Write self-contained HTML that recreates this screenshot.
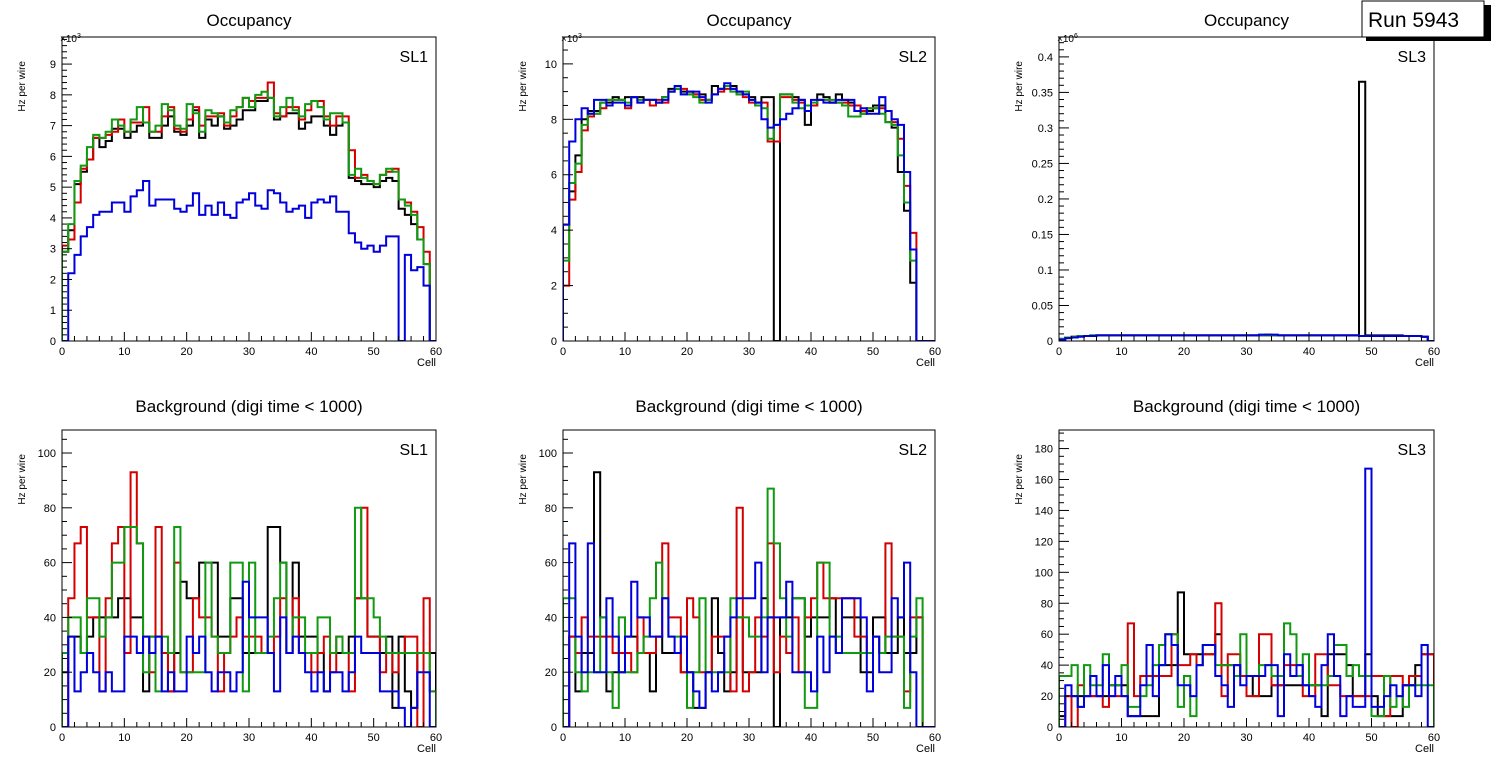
<!DOCTYPE html>
<html><head><meta charset="utf-8"><style>
html,body{margin:0;padding:0;background:#fff;}
svg{display:block;font-family:"Liberation Sans",Arial,sans-serif;}
</style></head><body>
<svg id="chart" width="1496" height="772" viewBox="0 0 1496 772" xmlns="http://www.w3.org/2000/svg">
<rect x="0" y="0" width="1496" height="772" fill="#fff"/>
<g>
<rect x="1366" y="5" width="125" height="36" fill="#000"/>
<rect x="1362" y="1" width="122" height="36" fill="#fff" stroke="#000" stroke-width="1"/>
<text x="1368" y="27" font-size="21" fill="#000">Run 5943</text>
</g>
</svg>
<script>
// ---- data ----
const cells = 60;
const occ1Black=[2.9,3.6,5.1,5.5,5.9,6.6,6.3,6.5,6.9,6.9,6.6,6.8,7.0,7.1,6.6,6.6,7.0,7.3,6.8,6.7,7.0,7.5,6.6,7.2,7.0,7.3,6.9,7.0,7.2,7.5,7.5,7.8,7.8,7.9,7.2,7.3,7.4,7.4,6.9,7.1,7.3,7.3,7.0,6.7,7.0,7.1,5.3,5.2,5.1,5.1,5.0,5.2,5.3,5.2,4.3,4.1,3.8,3.3,2.5,0];
const occ1Red=[3.1,3.3,4.5,5.6,5.9,6.6,6.6,6.7,6.8,7.2,6.8,7.1,7.1,7.6,6.8,6.8,7.3,7.6,6.9,6.8,7.2,7.6,7.0,7.3,7.3,7.4,7.0,7.3,7.6,7.9,7.8,7.9,7.9,8.4,7.4,7.3,7.6,7.6,7.2,7.5,7.8,7.8,7.3,7.0,7.3,7.3,6.2,5.3,5.4,5.2,5.1,5.4,5.5,5.6,4.6,4.5,4.2,3.7,2.9,0];
const occ1Green=[2.9,3.8,5.2,5.7,6.3,6.7,6.6,6.8,7.2,7.0,6.8,7.2,7.6,7.1,6.8,7.0,7.7,7.5,7.0,6.9,7.7,7.4,6.8,7.5,7.4,7.3,7.1,7.5,7.6,7.9,7.6,8.0,8.1,7.9,7.3,7.6,7.9,7.5,7.3,7.7,7.8,7.6,7.2,7.4,7.4,7.1,5.4,5.6,5.3,5.2,5.1,5.4,5.6,5.5,4.6,4.4,4.1,3.3,2.5,0];
const occ1Blue=[0,2.2,2.8,3.4,3.7,4.1,4.2,4.2,4.5,4.5,4.2,4.7,4.9,5.2,4.4,4.6,4.6,4.6,4.3,4.2,4.4,4.8,4.1,4.4,4.1,4.5,4.1,4.0,4.5,4.6,4.8,4.4,4.3,4.9,4.8,4.5,4.2,4.3,4.4,4.0,4.5,4.6,4.5,4.7,4.2,4.2,3.5,3.2,3.0,3.1,2.9,3.1,3.4,3.4,0,2.8,2.3,2.4,1.8,0];

const occ2Black=[4.2,5.4,6.7,8.0,8.3,8.3,8.6,8.6,8.8,8.7,8.8,8.8,8.8,8.7,8.7,8.6,8.8,9.1,9.1,9.0,9.0,8.9,8.9,8.7,9.2,9.1,9.2,9.2,9.0,8.9,8.8,8.6,8.8,8.8,0,8.9,8.9,8.8,8.7,7.8,8.5,8.9,8.8,8.6,8.9,8.7,8.6,8.3,8.2,8.3,8.5,8.5,7.9,7.7,6.1,4.7,2.1,0,0,0];
const occ2Red=[2.0,5.1,6.1,7.6,8.1,8.2,8.4,8.7,8.7,8.7,8.4,8.8,8.6,8.7,8.5,8.7,8.6,9.0,9.1,9.1,8.9,8.9,8.7,8.7,8.9,9.0,9.1,9.1,8.9,8.8,8.6,8.5,8.6,7.2,7.2,8.8,8.8,8.7,8.6,8.3,8.5,8.7,8.7,8.6,8.6,8.6,8.5,8.5,8.3,8.4,8.4,8.4,8.3,7.9,7.3,5.6,3.9,0,0,0];
const occ2Green=[2.9,5.7,6.4,7.8,8.2,8.2,8.6,8.7,8.7,8.7,8.6,8.8,8.7,8.7,8.7,8.6,8.8,9.0,9.1,8.9,8.9,8.8,8.6,8.7,8.9,9.1,9.2,9.0,8.9,9.0,8.7,8.5,8.4,7.3,7.8,8.9,8.9,8.6,8.4,8.5,8.6,8.7,8.7,8.7,8.6,8.5,8.1,8.1,8.2,8.4,8.4,8.2,7.9,7.8,6.7,5.0,2.9,0,0,0];
const occ2Blue=[4.2,7.2,8.0,8.4,8.2,8.7,8.7,8.5,8.6,8.6,8.5,8.8,8.6,8.7,8.7,8.6,8.7,9.0,9.2,8.9,9.0,9.0,8.8,8.6,8.9,9.1,9.3,9.1,9.0,8.9,8.7,8.6,8.0,7.7,7.8,8.0,8.2,8.4,8.7,8.3,8.7,8.7,8.6,8.6,8.7,8.7,8.7,8.3,8.4,8.2,8.2,8.8,8.3,8.0,7.8,6.1,3.3,0,0,0];

const occ3Black=[0.003,0.005,0.006,0.007,0.007,0.008,0.008,0.008,0.008,0.008,0.008,0.008,0.008,0.008,0.008,0.008,0.008,0.008,0.008,0.008,0.008,0.008,0.008,0.008,0.008,0.008,0.008,0.008,0.008,0.008,0.008,0.008,0.008,0.008,0.008,0.008,0.008,0.008,0.008,0.008,0.008,0.008,0.008,0.008,0.008,0.008,0.008,0.008,0.365,0.008,0.008,0.008,0.008,0.008,0.008,0.007,0.007,0.007,0.006,0];
const occ3Red=[0.002,0.004,0.006,0.007,0.007,0.007,0.008,0.008,0.008,0.008,0.008,0.008,0.008,0.008,0.008,0.008,0.008,0.008,0.008,0.008,0.008,0.008,0.008,0.008,0.008,0.008,0.008,0.008,0.008,0.008,0.008,0.008,0.008,0.009,0.008,0.008,0.008,0.008,0.008,0.008,0.008,0.008,0.008,0.008,0.008,0.008,0.008,0.008,0.007,0.007,0.007,0.007,0.007,0.007,0.007,0.007,0.007,0.007,0.006,0];
const occ3Green=[0.003,0.005,0.006,0.007,0.007,0.008,0.008,0.008,0.008,0.008,0.008,0.008,0.008,0.008,0.008,0.008,0.008,0.008,0.008,0.008,0.008,0.008,0.008,0.008,0.008,0.008,0.008,0.008,0.008,0.008,0.008,0.008,0.008,0.008,0.008,0.008,0.008,0.008,0.008,0.008,0.008,0.008,0.008,0.008,0.008,0.008,0.008,0.008,0.007,0.007,0.007,0.007,0.007,0.007,0.007,0.007,0.007,0.007,0.006,0];
const occ3Blue=[0.002,0.004,0.005,0.006,0.007,0.007,0.008,0.008,0.008,0.008,0.008,0.008,0.008,0.008,0.008,0.008,0.008,0.008,0.008,0.008,0.008,0.008,0.008,0.008,0.008,0.008,0.008,0.008,0.008,0.008,0.008,0.008,0.009,0.009,0.009,0.008,0.008,0.008,0.008,0.008,0.008,0.008,0.008,0.008,0.008,0.008,0.008,0.008,0.007,0.007,0.007,0.007,0.007,0.007,0.007,0.007,0.007,0.007,0.006,0];

const bkg1Black=[20,33,33,27,33,40,40,40,40,47,47,40,40,13,33,33,27,13,27,53,47,47,60,60,60,33,33,47,47,27,27,27,27,73,73,60,27,60,33,33,33,27,13,27,27,27,33,47,47,33,33,27,33,7,33,13,7,27,27,27];
const bkg1Red=[0,47,67,73,40,40,13,47,67,73,27,93,67,33,20,73,27,13,60,20,20,47,40,40,33,13,27,33,40,33,33,33,27,27,33,47,27,47,27,27,20,27,33,20,33,27,13,47,80,33,33,20,27,20,27,33,33,0,47,13];
const bkg1Green=[27,40,40,27,47,47,33,40,60,60,73,73,67,20,33,13,33,27,73,20,20,20,20,60,33,27,27,60,60,13,60,27,27,33,47,60,27,40,40,27,27,40,40,27,33,27,27,80,47,47,40,33,27,27,27,27,27,27,27,13];
const bkg1Blue=[0,33,13,20,27,20,13,20,13,13,33,33,27,33,27,33,13,20,13,13,33,27,33,20,13,20,20,13,20,53,40,40,40,27,13,40,27,33,27,20,13,20,13,20,20,13,20,33,27,27,27,13,13,13,7,0,7,20,20,0];

const bkg2Black=[0,33,13,27,27,93,40,13,20,20,33,33,27,27,13,33,27,27,27,20,20,7,7,20,47,27,13,20,40,20,20,20,47,40,0,40,40,47,47,33,40,40,40,47,27,40,40,40,20,20,40,40,27,27,40,27,27,40,0,0];
const bkg2Red=[0,33,27,40,33,33,33,33,27,27,27,20,40,27,27,33,67,40,40,20,47,40,20,20,33,33,33,13,80,13,20,40,33,67,20,33,27,40,20,40,47,60,47,47,47,47,47,33,33,27,33,27,67,33,33,13,40,40,0,0];
const bkg2Green=[47,47,20,13,20,20,40,20,7,40,20,20,27,33,47,60,47,33,33,33,7,20,47,20,20,20,20,47,40,40,33,33,40,87,67,47,33,47,47,7,7,60,60,33,33,27,27,27,27,27,33,27,33,33,33,7,33,47,0,0];
const bkg2Blue=[0,67,33,20,67,20,20,47,33,20,33,53,40,40,33,33,47,33,27,33,20,13,7,20,13,20,33,40,47,47,47,60,20,40,40,40,53,20,20,20,13,33,20,33,27,47,47,47,40,13,33,20,20,47,40,60,20,0,0,0];

const bkg3Black=[7,20,20,20,20,20,20,20,27,27,27,7,7,7,7,7,40,40,40,87,47,47,47,47,47,60,40,40,40,33,33,20,20,20,27,27,27,27,27,27,27,27,7,47,47,47,40,20,20,47,20,7,7,7,7,27,27,40,47,47];
const bkg3Red=[0,20,0,27,20,20,20,13,20,20,20,67,20,33,33,33,33,33,60,40,40,47,40,47,47,80,20,47,47,33,20,20,60,60,27,27,40,40,40,20,20,47,47,27,27,20,20,20,20,20,33,33,7,33,33,27,33,33,47,47];
const bkg3Green=[33,33,40,13,40,27,27,47,27,27,40,13,13,20,27,40,53,60,60,13,33,7,40,53,53,40,40,40,33,60,33,33,40,40,33,33,67,60,33,47,27,27,27,33,53,53,33,40,33,33,7,7,33,13,20,13,27,27,27,27];
const bkg3Blue=[0,27,20,13,20,33,20,40,20,33,20,7,7,27,53,20,40,60,53,27,27,20,40,53,53,33,27,13,40,27,33,33,33,40,40,7,47,33,40,27,20,13,40,60,33,7,20,13,13,167,13,13,20,27,20,27,27,20,53,0];

const xTicks=[0,10,20,30,40,50,60];
const yTicksOcc1=[0,1,2,3,4,5,6,7,8,9];
const yTicksOcc2=[0,2,4,6,8,10];
const yTicksOcc3=[0,0.05,0.1,0.15,0.2,0.25,0.3,0.35,0.4];
const yTicksBkg12=[0,20,40,60,80,100];
const yTicksBkg3=[0,20,40,60,80,100,120,140,160,180];

// ---- drawing ----
const NS="http://www.w3.org/2000/svg";
const svg=document.getElementById('chart');
const runBox=svg.lastElementChild;
const colors=['#000000','#d40000','#109a10','#0000dd'];
const seriesNames=['black','red','green','blue'];

function mk(tag,attrs,parent){const e=document.createElementNS(NS,tag);for(const k in attrs)e.setAttribute(k,attrs[k]);(parent||svg).appendChild(e);return e;}

const panels=[
 {id:'occupancy-sl1',x0:62,x1:436,y0:37,y1:341,ymax:9.88,ticks:yTicksOcc1,minor:5,title:'Occupancy',sl:'SL1',exp:'3',series:[occ1Black,occ1Red,occ1Green,occ1Blue]},
 {id:'occupancy-sl2',x0:563,x1:935,y0:37,y1:341,ymax:10.97,ticks:yTicksOcc2,minor:4,title:'Occupancy',sl:'SL2',exp:'3',series:[occ2Black,occ2Red,occ2Green,occ2Blue]},
 {id:'occupancy-sl3',x0:1059,x1:1434,y0:37,y1:341,ymax:0.428,ticks:yTicksOcc3,minor:5,title:'Occupancy',sl:'SL3',exp:'6',series:[occ3Black,occ3Red,occ3Green,occ3Blue]},
 {id:'background-sl1',x0:62,x1:436,y0:430,y1:727,ymax:108.4,ticks:yTicksBkg12,minor:4,title:'Background (digi time < 1000)',sl:'SL1',exp:null,series:[bkg1Black,bkg1Red,bkg1Green,bkg1Blue]},
 {id:'background-sl2',x0:563,x1:935,y0:430,y1:727,ymax:108.4,ticks:yTicksBkg12,minor:4,title:'Background (digi time < 1000)',sl:'SL2',exp:null,series:[bkg2Black,bkg2Red,bkg2Green,bkg2Blue]},
 {id:'background-sl3',x0:1059,x1:1434,y0:430,y1:727,ymax:192,ticks:yTicksBkg3,minor:4,title:'Background (digi time < 1000)',sl:'SL3',exp:null,series:[bkg3Black,bkg3Red,bkg3Green,bkg3Blue]}
];

panels.forEach((p,pi)=>{
  const g=mk('g',{});
  
  
  const xs=v=>p.x0+(p.x1-p.x0)*v/cells;
  const ys=v=>p.y1-(p.y1-p.y0)*Math.min(v,p.ymax)/p.ymax;
  const cx=(p.x0+p.x1)/2;
  const t=mk('text',{x:cx,y:(p.y0<100?p.y0-11:p.y0-18),'text-anchor':'middle','font-size':17},g);
  t.textContent=p.title;
  
  
  const clipId='clip'+pi;
  const cp=mk('clipPath',{id:clipId},g);
  mk('rect',{x:p.x0,y:p.y0,width:p.x1-p.x0,height:p.y1-p.y0},cp);
  const sg=mk('g',{'clip-path':'url(#'+clipId+')'},g);
  p.series.forEach((arr,si)=>{
    let d='M'+xs(0)+','+ys(0);
    for(let i=0;i<arr.length;i++){d+=' L'+xs(i)+','+ys(arr[i])+' L'+xs(i+1)+','+ys(arr[i]);}
    d+=' L'+xs(arr.length)+','+ys(0);
    const path=mk('path',{d:d,fill:'none',stroke:colors[si],'stroke-width':2,'stroke-linejoin':'miter'},sg);
    
    
  });
  const frame=mk('rect',{x:p.x0,y:p.y0,width:p.x1-p.x0,height:p.y1-p.y0,fill:'none',stroke:'#000','stroke-width':1},g);
  
  
  for(let v=0;v<=60;v+=2){
    const major=v%10===0;
    mk('line',{x1:xs(v),x2:xs(v),y1:p.y1,y2:p.y1-(major?9:5),stroke:'#000','stroke-width':1},g);
  }
  xTicks.forEach(v=>{
    const l=mk('text',{x:xs(v),y:p.y1+14,'text-anchor':'middle','font-size':11},g);
    l.textContent=v;
    
    
  });
  const xl=mk('text',{x:p.x1,y:p.y1+25,'text-anchor':'end','font-size':11},g);
  xl.textContent='Cell';
  
  
  const step=p.ticks[1]-p.ticks[0];
  const ms=step/p.minor;
  for(let k=0;k*ms<=p.ymax+1e-9;k++){
    const v=k*ms;const major=k%p.minor===0;
    mk('line',{x1:p.x0,x2:p.x0+(major?10:5),y1:ys(v),y2:ys(v),stroke:'#000','stroke-width':1},g);
  }
  p.ticks.forEach(v=>{
    const l=mk('text',{x:p.x0-6,y:ys(v)+4,'text-anchor':'end','font-size':11},g);
    l.textContent=String(v);
    
    
  });
  const yt=mk('text',{x:0,y:0,'text-anchor':'end','font-size':10,transform:'translate('+(p.x0-37)+','+(p.y0+24)+') rotate(-90)'},g);
  yt.textContent='Hz per wire';
  
  
  if(p.exp){
    const ex=mk('text',{x:p.x0-2,y:p.y0+5,'font-size':10},g);
    ex.textContent='×10';
    const sup=mk('tspan',{dy:-4,'font-size':7},ex);
    sup.textContent=p.exp;
    
    
  }
  const sl=mk('text',{x:p.x1-8,y:p.y0+25,'text-anchor':'end','font-size':16},g);
  sl.textContent=p.sl;
  
  
});
svg.appendChild(runBox);
</script>
</body></html>
